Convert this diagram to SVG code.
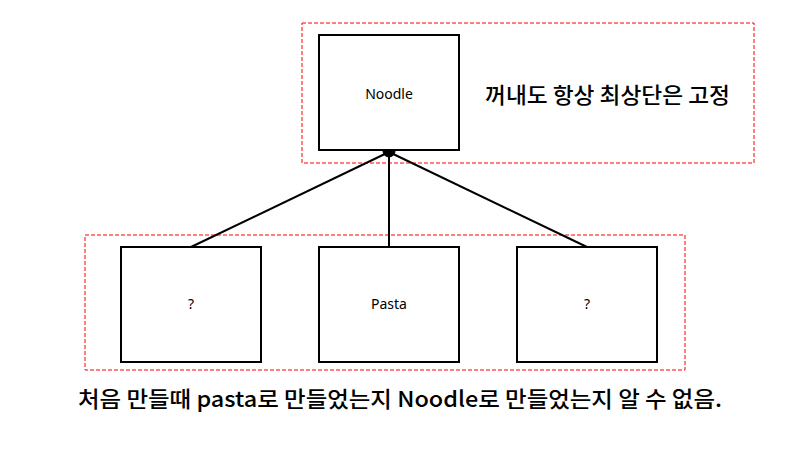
<svg xmlns="http://www.w3.org/2000/svg" width="800" height="450" viewBox="0 0 800 450">
<style>
.grp{fill:none;stroke:#ff0000;stroke-width:1;stroke-dasharray:4 2}
.box{fill:#fff;stroke:#000;stroke-width:2}
.lbl{font-family:"Noto Sans","Noto Sans CJK KR",sans-serif;font-size:14px;fill:#000;text-anchor:middle}
.big{font-family:"Noto Sans CJK KR","Noto Sans",sans-serif;font-size:22px;font-weight:500;fill:#000}
.edge{stroke:#000;stroke-width:2;fill:none}
</style>
<rect width="800" height="450" fill="#fff"/>
<g id="group-top"><rect class="grp" x="302" y="23" width="452" height="140"/></g>
<g id="group-bottom"><rect class="grp" x="85" y="235" width="600" height="135"/></g>
<g id="connectors">
<line class="edge" x1="389" y1="152" x2="191" y2="247"/>
<line class="edge" x1="389" y1="152" x2="389" y2="247"/>
<line class="edge" x1="389" y1="152" x2="587" y2="247"/>
</g>
<g id="noodle"><rect class="box" x="319" y="35" width="140" height="115"/><text class="lbl" x="389" y="99">Noodle</text></g>
<g id="anchor"><path d="M383 151 A6 6 0 0 0 395 151 Z" fill="#000" stroke="#000"/></g>
<g id="left"><rect class="box" x="121" y="247" width="140" height="115"/><text class="lbl" x="191" y="309">?</text></g>
<g id="pasta"><rect class="box" x="319" y="247" width="140" height="115"/><text class="lbl" x="389" y="309">Pasta</text></g>
<g id="right"><rect class="box" x="517" y="247" width="140" height="115"/><text class="lbl" x="587" y="309">?</text></g>
<g id="note-top"><text class="big" x="485" y="103" textLength="245" lengthAdjust="spacingAndGlyphs">꺼내도 항상 최상단은 고정</text></g>
<g id="note-bottom"><text class="big" x="78" y="407" textLength="644" lengthAdjust="spacingAndGlyphs">처음 만들때 pasta로 만들었는지 Noodle로 만들었는지 알 수 없음.</text></g>
</svg>
